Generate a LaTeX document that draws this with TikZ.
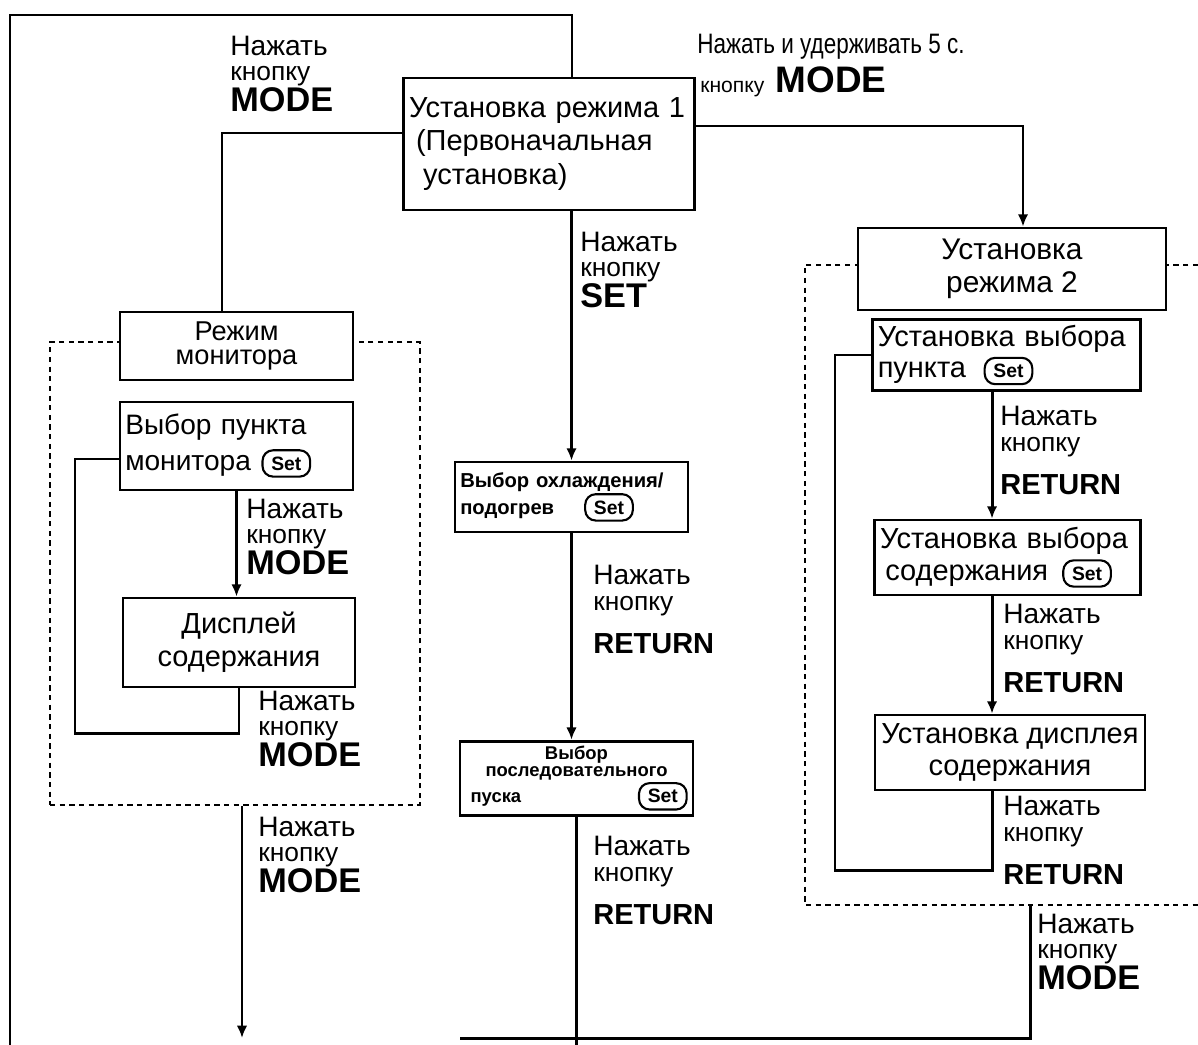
\documentclass[tikz,border=0pt]{standalone}
\usepackage{fontspec}
\usepackage{graphicx}
\setmainfont{Liberation Sans}
\usetikzlibrary{arrows.meta}
\newcommand\setbadge{\tikz[baseline=(sbx.base)]\node[draw,line width=1.2pt,rounded corners=6pt,inner xsep=5pt,inner ysep=1.5pt,minimum height=15pt,font=\bfseries\fontsize{11}{11}\selectfont](sbx){Set};}
\newcommand\modelab[4]{%
  \begin{scope}[shift={(#2,#3)}]
  \node[lb] (#1a) at (0,0) {Нажать};
  \node[lb,font=\fontsize{15}{15}\selectfont] (#1b) at (0,25) {кнопку};
  \node[lb,font=\bfseries\fontsize{19.5}{19.5}\selectfont] (#1c) at (0,56) {#4};
  \end{scope}}
\newcommand\retlab[3]{%
  \begin{scope}[shift={(#2,#3)}]
  \node[lb] (#1a) at (0,0) {Нажать};
  \node[lb,font=\fontsize{15}{15}\selectfont] (#1b) at (0,26) {кнопку};
  \node[lb,font=\bfseries\fontsize{16.5}{16.5}\selectfont] (#1c) at (0,69) {RETURN};
  \end{scope}}
\begin{document}
\begin{tikzpicture}[x=0.02cm,y=-0.02cm,
  box/.style={draw,line width=1.6pt,fill=white,inner sep=3pt,font=\fontsize{16.5}{19}\selectfont},
  conn/.style={line width=1.7pt},
  arr/.style={conn,-{Latex[length=7pt,width=6pt]}},
  dotl/.style={line width=1.4pt,dash pattern=on 3pt off 2.5pt},
  lb/.style={anchor=base west,inner sep=0pt,font=\fontsize{16}{16}\selectfont}]
\useasboundingbox (0,0) rectangle (1198,1045);

% dotted groups
\node[draw,dotl,minimum width=7.4cm,minimum height=9.26cm,inner sep=0pt] (monreg) at (235,573.5) {};
\draw[dotl] (1198,265) -- (805,265) -- (805,905) -- (1198,905);

% boxes
\node[box,text width=5.6cm,minimum height=2.64cm,align=left] (b1) at (549,144)
  {Установка режима 1\\\hspace*{4pt}(Первоначальная\\\hspace*{8pt}установка)};
\node[box,minimum width=4.66cm,minimum height=1.36cm,align=center,font=\fontsize{15.5}{14}\selectfont] (mon) at (236.5,346) {Режим\\монитора};
\node[box,text width=4.45cm,minimum height=1.76cm,align=left,font=\fontsize{16}{20}\selectfont] (sel1) at (236.5,446) {Выбор пункта\\монитора\hspace{6pt}\setbadge};
\node[box,minimum width=4.64cm,minimum height=1.78cm,align=center] (disp) at (239,642.5) {Дисплей\\содержания};
\node[box,text width=4.45cm,minimum height=1.4cm,align=left,font=\bfseries\fontsize{11.5}{13}\selectfont] (cool) at (571.5,497) {Выбор охлаждения/\\подогрев\hspace{0.6cm}\setbadge};
\node[box,text width=4.45cm,minimum height=1.34cm,align=center,font=\bfseries\fontsize{10.5}{9.5}\selectfont] (seq) at (576.5,778.5) {Выбор\\последовательного\\\makebox[4.45cm]{\hspace*{3pt}пуска\hfill\setbadge}};
\node[box,minimum width=6.16cm,minimum height=1.64cm,align=center,font=\fontsize{17}{19}\selectfont] (m2) at (1012,269) {Установка\\режима 2};
\node[box,text width=5.15cm,minimum height=1.4cm,align=left,font=\fontsize{16.5}{18}\selectfont] (r1) at (1006.5,355) {Установка выбора\\пункта\hspace{10pt}\setbadge};
\node[box,text width=5.1cm,minimum height=1.5cm,align=left,font=\fontsize{16.5}{18}\selectfont] (r2) at (1007.5,557.5) {Установка выбора\\\hspace*{3pt}содержания\hspace{8pt}\setbadge};
\node[box,minimum width=5.4cm,minimum height=1.5cm,align=center,font=\fontsize{16.5}{18}\selectfont] (r3) at (1010,752.5) {Установка дисплея\\содержания};

% helper coordinates
\coordinate (top) at (10,15);
\coordinate (topr) at (572,15);
\coordinate (bot) at (10,1045);
\coordinate (lp1) at (75,733);
\coordinate (lp2) at (835,870);
\coordinate (rb) at (1030,905);
\coordinate (rbb) at (1030,1038);
\coordinate (bl) at (460,1038);
\path ([xshift=0.14cm]monreg.south) coordinate (ms);
\path ([xshift=-0.29cm]r1.south) coordinate (r1s);
\path ([xshift=-0.31cm]r2.south) coordinate (r2s);
\path ([xshift=-0.36cm]r3.south) coordinate (r3s);

% connectors
\draw[conn] (bot) -- (top) -- (topr) -- (topr |- b1.north);
\draw[conn] ([yshift=0.22cm]b1.west) -| ([xshift=-0.29cm]mon.north);
\draw[arr] ([yshift=0.36cm]b1.east) -| ([xshift=0.22cm]m2.north);
\draw[arr] (cool.north |- b1.south) -- (cool.north);
\draw[arr] (cool.south) -- (cool.south |- seq.north);
\draw[conn] (seq.south) -- (seq.south |- bot);
\draw[arr] (sel1.south) -- (sel1.south |- disp.north);
\draw[conn] (disp.south) |- (lp1) |- ([yshift=-0.26cm]sel1.west);
\draw[arr] (ms) -- (ms |- rbb);
\draw[arr] (r1s) -- (r1s |- r2.north);
\draw[arr] (r2s) -- (r2s |- r3.north);
\draw[conn] (r3s) |- (lp2) |- (r1.west);
\draw[conn] (rb) -- (rbb) -- (bl);

% labels
\modelab{l1}{230}{55}{MODE}
\node[lb] (l2a) at (697,53) {\scalebox{0.8}[1]{Нажать и удерживать 5 с.}};
\node[lb,font=\fontsize{12}{12}\selectfont] (l2b) at (700,92) {кнопку};
\node[lb,font=\bfseries\fontsize{21}{21}\selectfont] (l2c) at ([xshift=6pt]l2b.base east) {MODE};
\modelab{l3}{580}{251}{SET}
\retlab{l4}{593}{584}
\retlab{l5}{593}{855}
\modelab{l6}{246}{518}{MODE}
\modelab{l7}{258}{710}{MODE}
\modelab{l8}{258}{836}{MODE}
\retlab{l9}{1000}{425}
\retlab{l10}{1003}{623}
\retlab{l11}{1003}{815}
\modelab{l12}{1037}{933}{MODE}
\end{tikzpicture}
\end{document}
